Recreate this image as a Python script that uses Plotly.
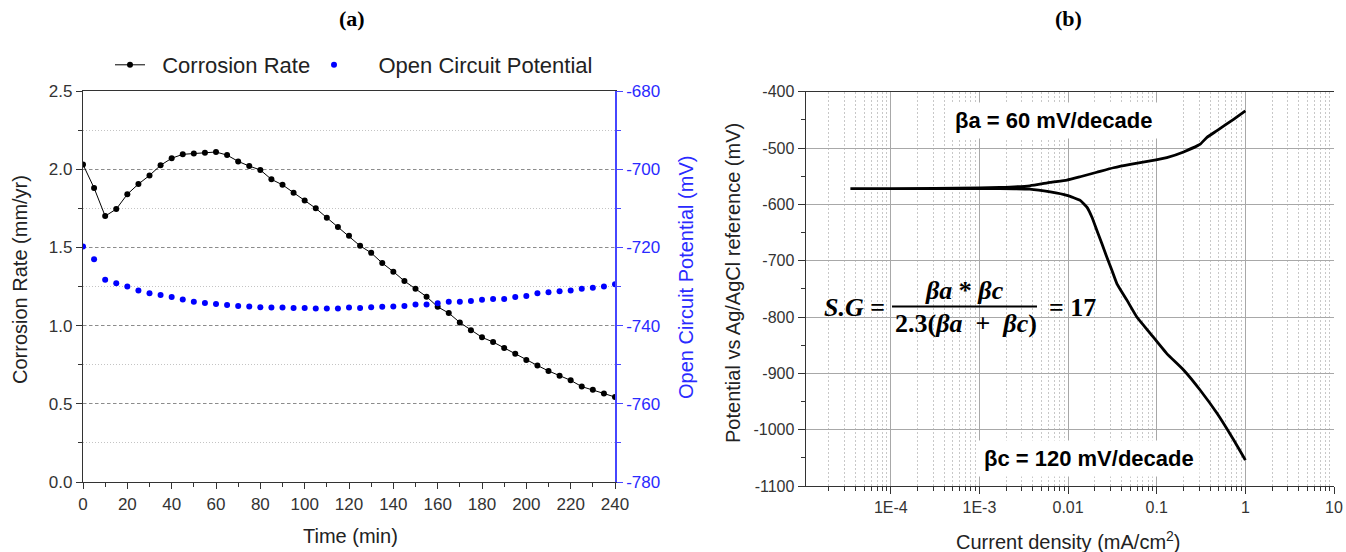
import plotly.graph_objects as go

W, H = 1346, 552

# ---------------- Panel (a) data ----------------
time_min = [0, 5, 10, 15, 20, 25, 30, 35, 40, 45, 50, 55, 60, 65, 70, 75, 80, 85, 90, 95,
            100, 105, 110, 115, 120, 125, 130, 135, 140, 145, 150, 155, 160, 165, 170, 175,
            180, 185, 190, 195, 200, 205, 210, 215, 220, 225, 230, 235, 240]
corrosion_rate = [2.03, 1.88, 1.70, 1.745, 1.84, 1.905, 1.96, 2.025, 2.07, 2.095,
                  2.10, 2.105, 2.11, 2.09, 2.05, 2.02, 1.995, 1.935, 1.90, 1.85,
                  1.80, 1.75, 1.69, 1.63, 1.575, 1.51, 1.465, 1.40, 1.345, 1.285,
                  1.235, 1.185, 1.12, 1.08, 1.02, 0.97, 0.925, 0.895, 0.857, 0.82,
                  0.78, 0.745, 0.71, 0.68, 0.65, 0.61, 0.59, 0.566, 0.543]
ocp_mv = [-719.8, -723.0, -728.3, -729.2, -730.0, -731.0, -731.7, -732.2, -732.7, -733.3,
          -733.9, -734.2, -734.5, -734.7, -735.0, -735.1, -735.3, -735.4, -735.4, -735.5,
          -735.5, -735.6, -735.6, -735.6, -735.4, -735.5, -735.3, -735.2, -735.1, -735.0,
          -734.6, -734.6, -734.3, -733.9, -733.9, -733.7, -733.4, -733.2, -733.2, -732.7,
          -732.4, -731.7, -731.5, -731.2, -731.0, -730.6, -730.3, -730.0, -729.4]

cr_tickvals = [0, 0.5, 1.0, 1.5, 2.0, 2.5]
cr_ticktext = ["0.0", "0.5", "1.0", "1.5", "2.0", "2.5"]
ocp_tickvals = [-780, -760, -740, -720, -700, -680]
ocp_ticktext = ["-780", "-760", "-740", "-720", "-700", "-680"]

# ---------------- Panel (b) data ----------------
cath_current = [3.5e-5, 1e-4, 1e-3, 1.7e-3, 3.7e-3, 6.3e-3, 9.7e-3, 0.0137, 0.0163, 0.0186,
                0.0211, 0.0241, 0.0274, 0.0312, 0.0356, 0.0461, 0.0597, 0.0845, 0.130, 0.201,
                0.310, 0.479, 0.736, 1.0]
cath_potential = [-572, -572, -572, -572, -573, -578, -584, -593, -605, -623,
                  -646, -670, -694, -717, -741, -770, -800, -829, -865, -894,
                  -930, -971, -1018, -1054]
anod_current = [3.5e-5, 1e-4, 1e-3, 1.7e-3, 3.7e-3, 6.3e-3, 9.7e-3, 0.0137, 0.0211, 0.0326,
                0.0502, 0.0845, 0.130, 0.201, 0.310, 0.369, 0.479, 0.736, 1.0]
anod_potential = [-572, -572, -571, -570, -567, -561, -557, -551, -543, -535,
                  -529, -523, -517, -507, -493, -481, -469, -449, -434]

cd_tickvals = [1e-4, 1e-3, 0.01, 0.1, 1, 10]
cd_ticktext = ["1E-4", "1E-3", "0.01", "0.1", "1", "10"]
cd_minor = [m * 10.0 ** e for e in range(-5, 1) for m in range(2, 10)]
pot_tickvals = [-1100, -1000, -900, -800, -700, -600, -500, -400]
pot_ticktext = ["-1100", "-1000", "-900", "-800", "-700", "-600", "-500", "-400"]

tafel_x = cath_current[::-1] + anod_current
tafel_y = cath_potential[::-1] + anod_potential

SANS = "Liberation Sans"
SERIF = "Liberation Serif"
BLUE = "#0000ff"
AXBLUE = "#4646ff"
TXT = "#333333"
NB = "\u00a0"

def px(x):
    return x / W

def py(y):
    return 1 - y / H

fig = go.Figure()
fig.add_trace(go.Scatter(x=time_min, y=corrosion_rate, mode="lines+markers", name=NB * 2 + "Corrosion Rate",
                         line=dict(color="black", width=1), marker=dict(color="black", size=6),
                         xaxis="x", yaxis="y", legend="legend"))
fig.add_trace(go.Scatter(x=time_min, y=ocp_mv, mode="markers", name=NB * 4 + "Open Circuit Potential",
                         marker=dict(color=BLUE, size=6), xaxis="x", yaxis="y2", legend="legend2"))
fig.add_trace(go.Scatter(x=tafel_x, y=tafel_y, mode="lines", showlegend=False,
                         line=dict(color="black", width=2.8, shape="spline", smoothing=0.4),
                         xaxis="x2", yaxis="y3"))

leg_common = dict(orientation="h", yanchor="middle", xanchor="left",
                  font=dict(size=22, color="#222"), bgcolor="rgba(0,0,0,0)")

fig.update_layout(
    width=W, height=H, margin=dict(l=0, r=0, t=0, b=0, autoexpand=False),
    paper_bgcolor="white", plot_bgcolor="white",
    font=dict(family=SANS, color=TXT),
    showlegend=True,
    legend=dict(x=px(110), y=py(65), **leg_common),
    legend2=dict(x=px(314), y=py(65), **leg_common),
    xaxis=dict(domain=[px(83), px(615)], anchor="y", range=[0, 240], dtick=20, tick0=0, automargin=False,
               ticks="outside", ticklen=6, tickcolor="#333", showline=True, linecolor="#333",
               linewidth=1.2, mirror=True, showgrid=False, zeroline=False,
               tickfont=dict(size=17, color=TXT),
               minor=dict(dtick=10, ticks="outside", ticklen=4, tickcolor="#333")),
    yaxis=dict(domain=[py(482), py(91)], anchor="x", range=[0, 2.5], automargin=False,
               tickvals=cr_tickvals, ticktext=cr_ticktext,
               ticks="outside", ticklen=6, tickcolor="#333", showline=True, linecolor="#333",
               linewidth=1.2, showgrid=True, gridcolor="#8c8c8c", griddash="3px,3px", gridwidth=1,
               zeroline=False, tickfont=dict(size=17, color=TXT),
               minor=dict(dtick=0.25, ticks="outside", ticklen=4, tickcolor="#333",
                          showgrid=True, gridcolor="#c4c4c4", griddash="1px,2px", gridwidth=1)),
    yaxis2=dict(overlaying="y", side="right", anchor="x", range=[-780, -680], automargin=False,
                tickvals=ocp_tickvals, ticktext=ocp_ticktext,
                ticks="outside", ticklen=6, tickcolor=AXBLUE, showline=True, linecolor=AXBLUE,
                linewidth=1.5, showgrid=False, zeroline=False,
                tickfont=dict(size=17, color="#2a2aff"),
                minor=dict(dtick=10, ticks="outside", ticklen=4, tickcolor=AXBLUE)),
    xaxis2=dict(domain=[px(805.7), px(1334)], anchor="y3", type="log", range=[-4.96, 1], automargin=False,
                tickvals=cd_tickvals, ticktext=cd_ticktext,
                ticks="outside", ticklen=7, tickcolor="#333", showline=True, linecolor="#333",
                linewidth=1.2, mirror=True, showgrid=True, gridcolor="#a8a8a8", gridwidth=1,
                zeroline=False, tickfont=dict(size=16, color=TXT),
                minor=dict(tickmode="array", tickvals=cd_minor, ticks="outside", ticklen=4,
                           tickcolor="#333", showgrid=True, gridcolor="#c8c8c8",
                           griddash="2px,2px", gridwidth=1)),
    yaxis3=dict(domain=[py(486), py(91.7)], anchor="x2", range=[-1100, -400], automargin=False,
                tickvals=pot_tickvals, ticktext=pot_ticktext,
                ticks="outside", ticklen=7, tickcolor="#333", showline=True, linecolor="#333",
                linewidth=1.2, showgrid=True, gridcolor="#a8a8a8", gridwidth=1, zeroline=False,
                tickfont=dict(size=16, color=TXT),
                minor=dict(dtick=50, ticks="outside", ticklen=4, tickcolor="#333")),
)

ann = []
# Panel titles
ann.append(dict(x=px(352), y=py(18), text="<b>(a)</b>", font=dict(family=SERIF, size=22, color="black")))
ann.append(dict(x=px(1068), y=py(18), text="<b>(b)</b>", font=dict(family=SERIF, size=22, color="black")))
# Axis titles
ann.append(dict(x=px(350), y=py(536), text="Time (min)", font=dict(size=20, color="#222")))
ann.append(dict(x=px(20), y=py(280), text="Corrosion Rate (mm/yr)", textangle=-90,
                font=dict(size=20, color="#222")))
ann.append(dict(x=px(686), y=py(278), text="Open Circuit Potential (mV)", textangle=-90,
                font=dict(size=20, color="#2a2aff")))
ann.append(dict(x=px(733), y=py(283), text="Potential vs Ag/AgCl reference (mV)", textangle=-90,
                font=dict(size=20, color="#222")))
ann.append(dict(x=px(1068), y=py(540), text="Current density (mA/cm<sup>2</sup>)",
                font=dict(size=20, color="#222")))
# Tafel labels
ann.append(dict(x=px(1053), y=py(121), text="<b>βa = 60 mV/decade</b>", bgcolor="white",
                borderpad=5, font=dict(size=22, color="black")))
ann.append(dict(x=px(1089), y=py(458), text="<b>βc = 120 mV/decade</b>", bgcolor="white",
                borderpad=5, font=dict(size=22, color="black")))
# Equation
eqf = dict(family=SERIF, size=26, color="black")
ann.append(dict(x=px(854), y=py(307), text="<b><i>S.G</i> =</b>", font=eqf))
ann.append(dict(x=px(964), y=py(290), text="<b><i>βa</i> * <i>βc</i></b>", font=eqf))
ann.append(dict(x=px(966), y=py(323), text="<b>2.3(<i>βa</i>" + NB + " + " + NB + "<i>βc</i>)</b>", font=eqf))
ann.append(dict(x=px(1072), y=py(307), text="<b>= 17</b>", font=eqf))
for a in ann:
    a.setdefault("xref", "paper")
    a.setdefault("yref", "paper")
    a.setdefault("showarrow", False)
    a.setdefault("xanchor", "center")
    a.setdefault("yanchor", "middle")
fig.update_layout(annotations=ann)

fig.update_layout(shapes=[
    dict(type="rect", xref="paper", yref="paper", x0=px(806.5), x1=px(1102), y0=py(337), y1=py(274),
         fillcolor="white", line=dict(width=0), layer="between"),
    dict(type="line", xref="paper", yref="paper", x0=px(892), x1=px(1037), y0=py(306.5), y1=py(306.5),
         line=dict(color="black", width=2), layer="above"),
])

fig.write_html("out.html", config={"displayModeBar": False},
               post_script="document.body.style.margin='0px';document.body.style.overflow='hidden';")
